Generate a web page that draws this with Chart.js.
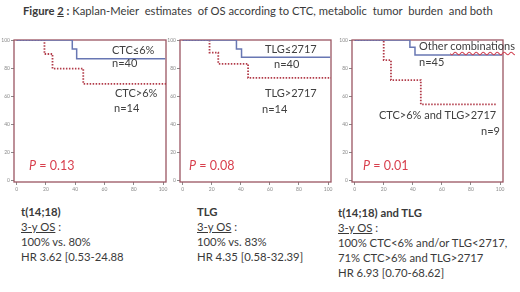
<!DOCTYPE html>
<html>
<head>
<meta charset="utf-8">
<script src="https://cdn.jsdelivr.net/npm/chart.js@4.4.1/dist/chart.umd.min.js"></script>
<style>
  html, body { margin: 0; padding: 0; background: #fff; }
  body { width: 520px; height: 292px; position: relative; overflow: hidden;
         font-family: Lato, "Open Sans", sans-serif; color: #3a3a3a; }
  .abs { position: absolute; white-space: nowrap; }
  canvas { position: absolute; }
  .title { left: 23px; top: 4px; font-size: 11.2px; }
  .lab { font-size: 11px; line-height: 12px; color: #404040; }
  .pval { font-size: 12.5px; color: #d8404e; line-height: 14px; }
  .note { font-size: 11.3px; line-height: 15px; color: #3a3a3a; }
  .u { text-decoration: underline; }
</style>
</head>
<body>
<div id="title" class="abs title"><b>Figure <span class="u">2</span> :</b> Kaplan-Meier&nbsp; estimates&nbsp; of OS according to CTC, metabolic&nbsp; tumor&nbsp; burden&nbsp; and both</div>

<canvas id="km1" width="172" height="160" style="left:0px;top:34px"></canvas>
<canvas id="km2" width="171" height="160" style="left:166px;top:34px"></canvas>
<canvas id="km3" width="171" height="160" style="left:338px;top:34px"></canvas>

<div class="abs lab" style="left:112px;top:44px">CTC≤6%</div>
<div class="abs lab" style="left:112px;top:57px">n=40</div>
<div class="abs lab" style="left:115px;top:87px">CTC&gt;6%</div>
<div class="abs lab" style="left:114px;top:102px">n=14</div>
<div class="abs pval" style="left:29px;top:159px"><i>P</i> = 0.13</div>

<div class="abs lab" style="left:265px;top:43px">TLG≤2717</div>
<div class="abs lab" style="left:274px;top:58px">n=40</div>
<div class="abs lab" style="left:265px;top:87px">TLG&gt;2717</div>
<div class="abs lab" style="left:262px;top:103px">n=14</div>
<div class="abs pval" style="left:189px;top:159px"><i>P</i> = 0.08</div>

<div class="abs lab" style="left:419px;top:40px">Other <span style="text-decoration: underline wavy #d04050;">combinations</span></div>
<div class="abs lab" style="left:419px;top:56px">n=45</div>
<div class="abs lab" style="left:379px;top:109px">CTC&gt;6% and TLG&gt;2717</div>
<div class="abs lab" style="left:476px;top:125px;width:24px;text-align:right">n=9</div>
<div class="abs pval" style="left:363px;top:159px"><i>P</i> = 0.01</div>

<div class="abs note" style="left:21px;top:204px">
  <b>t(14;18)</b><br><span class="u">3-y OS</span> :<br>100% vs. 80%<br>HR 3.62 [0.53-24.88
</div>
<div class="abs note" style="left:197px;top:204px">
  <b>TLG</b><br><span class="u">3-y OS</span> :<br>100% vs. 83%<br>HR 4.35 [0.58-32.39]
</div>
<div class="abs note" style="left:338px;top:205px">
  <b>t(14;18) and TLG</b><br><span class="u">3-y OS</span> :<br>100% CTC&lt;6% and/or TLG&lt;2717,<br>71% CTC&gt;6% and TLG&gt;2717<br>HR 6.93 [0.70-68.62]
</div>

<script>
// follow-up axis (months) and survival (%) tick labels
const xTicks = [0, 20, 40, 60, 80, 100];
const yTicks = [0, 20, 40, 60, 80, 100];

// panel 1: CTC
const ctcLowTime = [0, 38, 41, 101.5];
const ctcLowSurv = [100, 93.5, 86.6, 86.6];
const ctcHighTime = [0, 19, 24.5, 45.5, 102.5];
const ctcHighSurv = [100, 90, 79.5, 68.6, 68.6];

// panel 2: TLG
const tlgLowTime = [0, 37, 40.5, 101.5];
const tlgLowSurv = [100, 93.6, 87.6, 87.6];
const tlgHighTime = [0, 18.5, 24.5, 45, 102];
const tlgHighSurv = [100, 91, 83, 72.9, 72.9];

// panel 3: both
const otherTime = [0, 38, 41.5, 101.5];
const otherSurv = [100, 94.8, 89.3, 89.3];
const bothHighTime = [0, 20, 25, 45.5, 97.5];
const bothHighSurv = [100, 85.7, 71.4, 54, 54];

const blue = '#6877b3';
const red = '#b23c4a';
const frameColor = '#9a5562';
const tickColor = '#8a8a8a';

// stretch the title to the width it has in the figure
const title = document.getElementById('title');
title.style.fontSize = (11.2 * 470 / title.offsetWidth) + 'px';

const toPts = (t, s) => t.map((v, i) => ({ x: v, y: s[i] }));

const framePlugin = {
  id: 'frame',
  beforeDatasetsDraw(chart) {
    const a = chart.chartArea, ctx = chart.ctx;
    ctx.save();
    ctx.strokeStyle = frameColor;
    ctx.lineWidth = 1.3;
    ctx.strokeRect(a.left, a.top, a.right - a.left, a.bottom - a.top);
    ctx.restore();
  }
};

function kmChart(id, lowT, lowS, highT, highS) {
  return new Chart(document.getElementById(id), {
    type: 'line',
    data: {
      datasets: [
        { data: toPts(lowT, lowS), borderColor: blue, borderWidth: 1.5,
          stepped: true, pointRadius: 0, fill: false },
        { data: toPts(highT, highS), borderColor: red, borderWidth: 1.8,
          borderDash: [1.5, 1.5], stepped: true, pointRadius: 0, fill: false }
      ]
    },
    options: {
      responsive: false,
      animation: false,
      layout: { padding: { top: 6, right: 6, left: 0, bottom: 0 } },
      plugins: { legend: { display: false }, tooltip: { enabled: false } },
      scales: {
        x: {
          type: 'linear', min: -1.8, max: 102,
          afterFit: s => { s.height = 12; },
          afterBuildTicks: s => { s.ticks = xTicks.map(v => ({ value: v })); },
          ticks: { font: { size: 5, family: 'Lato' }, color: tickColor, padding: 1, maxRotation: 0 },
          grid: { drawOnChartArea: false, tickLength: 3, color: tickColor },
          border: { display: false }
        },
        y: {
          min: -1.4, max: 100,
          afterFit: s => { s.width = 14; },
          afterBuildTicks: s => { s.ticks = yTicks.map(v => ({ value: v })); },
          ticks: { font: { size: 5, family: 'Lato' }, color: tickColor, padding: 1 },
          grid: { drawOnChartArea: false, tickLength: 3, color: tickColor },
          border: { display: false }
        }
      }
    },
    plugins: [framePlugin]
  });
}

kmChart('km1', ctcLowTime, ctcLowSurv, ctcHighTime, ctcHighSurv);
kmChart('km2', tlgLowTime, tlgLowSurv, tlgHighTime, tlgHighSurv);
kmChart('km3', otherTime, otherSurv, bothHighTime, bothHighSurv);
</script>
</body>
</html>
